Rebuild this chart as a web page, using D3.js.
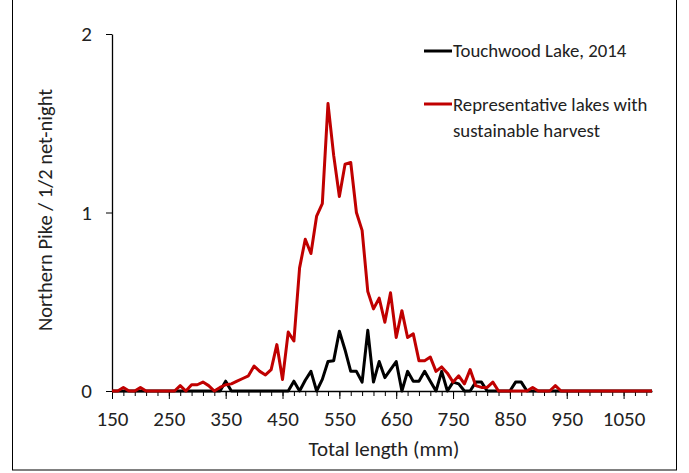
<!DOCTYPE html>
<html><head><meta charset="utf-8">
<script src="https://cdn.jsdelivr.net/npm/d3@7"></script>
<style>
html,body{margin:0;padding:0;background:#fff;}
svg text{font-family:Carlito,Calibri,Lato,"Open Sans",sans-serif;fill:#222;}
</style></head>
<body><svg id="c" width="689" height="473"></svg>
<script>
// Total length bins (mm), 150..1100 step 10
const lengths = d3.range(150, 1101, 10);
// Touchwood Lake, 2014
const touchwood = [
 0,0,0,0,0,0,0,0,0,0,      // 150-240
 0,0,0,0,0,0,0,0,0,0,      // 250-340
 0.055,0,0,0,0,0,0,0,0,0,  // 350-440
 0,0,0.055,0,0.06,0.11,0,0.065,0.165,0.17, // 450-540
 0.335,0.23,0.11,0.11,0.05,0.34,0.05,0.165,0.075,0.12, // 550-640
 0.165,0,0.11,0.055,0.055,0.11,0.055,0,0.11,0, // 650-740
 0.05,0.04,0,0,0.05,0.05,0,0,0,0, // 750-840
 0,0.05,0.05,0,0,0,0,0,0,0, // 850-940
 0,0,0,0,0,0,0,0,0,0, // 950-1040
 0,0,0,0,0,0 // 1050-1100
];
// Representative lakes with sustainable harvest
const representative = [
 0,0,0.02,0,0,0.02,0,0,0,0,      // 150-240
 0,0,0.03,0,0.035,0.035,0.05,0.03,0,0.02, // 250-340
 0.035,0.04,0.055,0.07,0.085,0.14,0.11,0.09,0.12,0.26, // 350-440
 0.065,0.33,0.28,0.69,0.85,0.77,0.98,1.05,1.61,1.32, // 450-540
 1.09,1.27,1.28,1.0,0.9,0.557,0.46,0.52,0.385,0.55, // 550-640
 0.3,0.45,0.3,0.32,0.17,0.17,0.19,0.11,0.135,0.1, // 650-740
 0.05,0.085,0.04,0.12,0.03,0.02,0.02,0.05,0,0, // 750-840
 0,0,0,0,0.02,0,0,0,0.03,0, // 850-940
 0,0,0,0,0,0,0,0,0,0, // 950-1040
 0,0,0,0,0,0 // 1050-1100
];
const xTickLabels = [150,250,350,450,550,650,750,850,950,1050];
const yTicks = [0,1,2];
const seriesNames = ["Touchwood Lake, 2014","Representative lakes with sustainable harvest"];
const colors = ["#000000","#c00000"];

const svg = d3.select("#c");
svg.append("rect").attr("x",12.5).attr("y",-2).attr("width",664).attr("height",472)
  .attr("fill","none").attr("stroke","#000").attr("stroke-width",1);

const x = d3.scaleLinear().domain([150,1100]).range([112,652]);
const y = d3.scaleLinear().domain([0,2]).range([391,34]);

// minor ticks every 20 mm
const minor = d3.range(150, 1100, 20);
svg.append("g").attr("transform","translate(0,391)")
  .call(d3.axisBottom(x).tickValues(minor).tickSize(5).tickFormat(""))
  .call(g=>g.select(".domain").remove())
  .call(g=>g.selectAll("line").attr("stroke","#000").attr("stroke-width",1));
const xa = svg.append("g").attr("transform","translate(0,391)")
  .call(d3.axisBottom(x).tickValues(xTickLabels).tickSize(8).tickSizeOuter(0).tickPadding(12).tickFormat(d3.format("d")));
xa.select(".domain").attr("stroke","#000").attr("stroke-width",1.3);
xa.selectAll("line").attr("stroke","#000");
xa.selectAll("text").attr("font-size","21px").attr("fill","#222");

const ya = svg.append("g").attr("transform","translate(112,0)")
  .call(d3.axisLeft(y).tickValues(yTicks).tickSize(6).tickSizeOuter(0).tickPadding(14).tickFormat(d3.format("d")));
ya.select(".domain").attr("stroke","#000").attr("stroke-width",1.3);
ya.selectAll("line").attr("stroke","#000");
ya.selectAll("text").attr("font-size","21px").attr("fill","#222");

const line = d3.line().x((d,i)=>x(lengths[i])).y(d=>y(d));
[touchwood, representative].forEach((s,k)=>{
  svg.append("path").datum(s).attr("d",line).attr("fill","none")
    .attr("stroke",colors[k]).attr("stroke-width",3).attr("stroke-linejoin","round");
});

svg.append("text").attr("x",384).attr("y",456).attr("text-anchor","middle")
  .attr("font-size","21px").text("Total length (mm)");
svg.append("text").attr("transform","translate(52,210) rotate(-90)").attr("text-anchor","middle")
  .attr("font-size","20.5px").text("Northern Pike / 1/2 net-night");

// legend
const lg = svg.append("g");
lg.append("line").attr("x1",424).attr("x2",452).attr("y1",51).attr("y2",51).attr("stroke",colors[0]).attr("stroke-width",3);
lg.append("text").attr("x",453).attr("y",57).attr("font-size","18.8px").text(seriesNames[0]);
lg.append("line").attr("x1",424).attr("x2",452).attr("y1",104).attr("y2",104).attr("stroke",colors[1]).attr("stroke-width",3);
lg.append("text").attr("x",453).attr("y",111).attr("font-size","18.8px").text("Representative lakes with");
lg.append("text").attr("x",453).attr("y",137).attr("font-size","18.8px").text("sustainable harvest");
</script></body></html>
